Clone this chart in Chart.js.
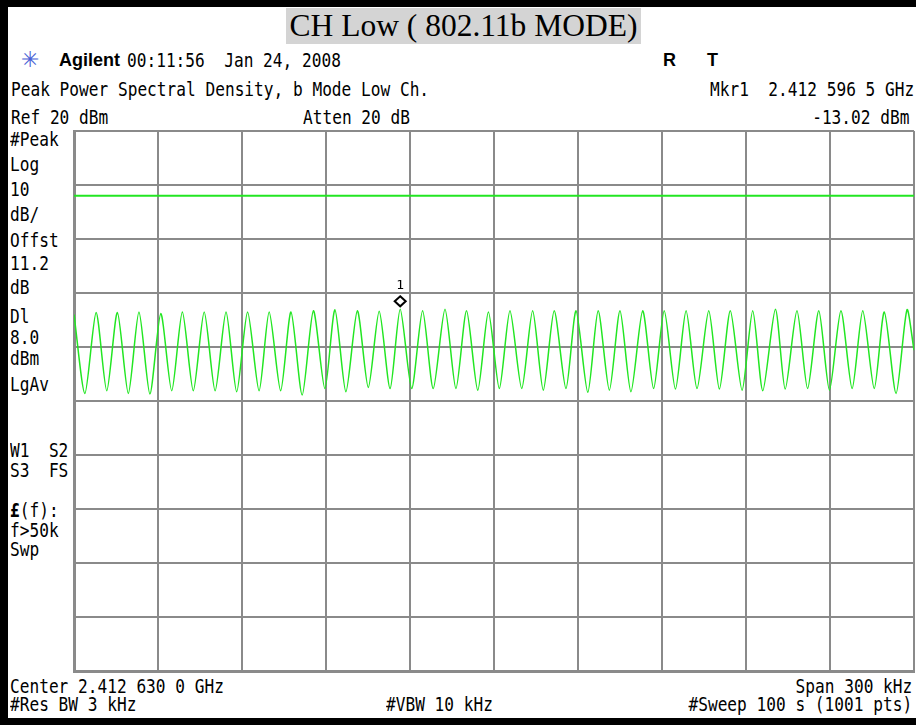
<!DOCTYPE html>
<html lang="en">
<head>
<meta charset="UTF-8">
<title>CH Low ( 802.11b MODE)</title>
<script src="https://cdn.jsdelivr.net/npm/chart.js"></script>
<style>
  html, body { margin: 0; padding: 0; background: #fff; }
  #page { position: relative; width: 916px; height: 725px; overflow: hidden; background: #fff; }
  .bar { position: absolute; background: #000; }
  .t { position: absolute; font-family: 'DejaVu Sans Mono', monospace; font-size: 19px; line-height: 19px;
       white-space: pre; color: #000; transform: scaleX(0.85); transform-origin: 0 0; }
  .r { transform-origin: 100% 0; }
  .b { font-family: 'Liberation Sans', Arial, sans-serif; font-weight: bold; font-size: 18px; transform: none; }
  #title { position: absolute; left: 286px; top: 8px; width: 355px; height: 36px; background: #d4d4d4;
           font-family: 'Liberation Serif', 'Times New Roman', serif; font-size: 31.5px; line-height: 36px;
           text-align: center; white-space: pre; color: #000; }
  #logo { position: absolute; left: 21px; top: 48px; font-family: 'DejaVu Sans', sans-serif; font-size: 22px;
          line-height: 24px; color: #4a5fd6; }
  #plot { position: absolute; left: 72px; top: 129px; width: 844px; height: 544px; }
</style>
</head>
<body>
<div id="page">
  <div class="bar" style="left:0;top:0;width:916px;height:7px"></div>
  <div class="bar" style="left:0;top:0;width:8px;height:725px"></div>
  <div class="bar" style="left:0;top:718px;width:916px;height:7px"></div>

  <div id="title">CH Low ( 802.11b MODE)</div>

  <div id="logo">✳</div>
  <div class="t b" style="left:59px;top:51px">Agilent</div>
  <div class="t" style="left:127px;top:51px">00:11:56  Jan 24, 2008</div>
  <div class="t b" style="left:663px;top:51px">R</div>
  <div class="t b" style="left:707px;top:51px">T</div>

  <div class="t" style="left:11px;top:80px">Peak Power Spectral Density, b Mode Low Ch.</div>
  <div class="t r" style="right:2px;top:80px">Mkr1  2.412 596 5 GHz</div>
  <div class="t" style="left:11px;top:108px">Ref 20 dBm</div>
  <div class="t" style="left:303px;top:108px">Atten 20 dB</div>
  <div class="t r" style="right:7px;top:108px">-13.02 dBm</div>

  <div class="t" style="left:10px;top:130px">#Peak</div>
  <div class="t" style="left:10px;top:155px">Log</div>
  <div class="t" style="left:10px;top:180px">10</div>
  <div class="t" style="left:10px;top:205px">dB/</div>
  <div class="t" style="left:10px;top:231px">Offst</div>
  <div class="t" style="left:10px;top:254px">11.2</div>
  <div class="t" style="left:10px;top:278px">dB</div>
  <div class="t" style="left:10px;top:307px">Dl</div>
  <div class="t" style="left:10px;top:328px">8.0</div>
  <div class="t" style="left:10px;top:349px">dBm</div>
  <div class="t" style="left:10px;top:375px">LgAv</div>
  <div class="t" style="left:10px;top:441px">W1  S2</div>
  <div class="t" style="left:10px;top:461px">S3  FS</div>
  <div class="t" style="left:10px;top:501px"><b>£</b>(f):</div>
  <div class="t" style="left:10px;top:521px">f&gt;50k</div>
  <div class="t" style="left:10px;top:540px">Swp</div>

  <div class="t" style="left:10px;top:677px">Center 2.412 630 0 GHz</div>
  <div class="t r" style="right:4px;top:677px">Span 300 kHz</div>
  <div class="t" style="left:10px;top:695px">#Res BW 3 kHz</div>
  <div class="t" style="left:386px;top:695px">#VBW 10 kHz</div>
  <div class="t r" style="right:4px;top:695px">#Sweep 100 s (1001 pts)</div>

  <canvas id="plot" width="844" height="544"></canvas>
</div>

<script>
  // frequency axis: offset from center 2.412 630 0 GHz, in kHz (span 300 kHz)
  const spanMin = -150;
  const spanMax = 150;
  const freqStep = 30;
  // amplitude axis: Ref 20 dBm, 10 dB/div
  const refLevel = 20;
  const bottomLevel = -80;
  const levelStep = 10;
  const displayLine = 8.0;

  // trace peaks and troughs (kHz offset, dBm)
  const traceFreq = [
    -150, -146.1, -142.1, -138.3, -134.5, -130.6, -126.8, -122.9, -119.0, -115.1,
    -111.3, -107.4, -103.5, -99.6, -95.7, -91.9, -88.0, -83.9, -80.3, -76.2,
    -72.5, -68.5, -64.5, -60.4, -56.8, -52.9, -48.8, -44.9, -41.0, -37.1,
    -33.5, -29.4, -25.5, -21.7, -17.5, -13.6, -9.8, -5.8, -2.0, 1.9,
    5.7, 9.9, 13.8, 17.6, 21.5, 25.7, 29.3, 33.5, 37.2, 41.2,
    45.0, 48.9, 53.1, 57.0, 60.8, 64.8, 68.6, 72.5, 76.7, 80.5,
    84.4, 88.6, 92.4, 96.0, 100.5, 104.0, 108.2, 112.0, 116.0, 119.8,
    123.9, 127.9, 131.7, 135.8, 139.4, 143.6, 147.5, 150
  ];
  const traceLevel = [
    -14.0, -28.6, -13.6, -28.1, -13.6, -28.6, -13.5, -28.7, -13.8, -28.1,
    -13.5, -28.1, -13.5, -28.1, -13.5, -28.3, -13.5, -28.1, -13.5, -28.1,
    -13.5, -28.9, -13.3, -27.7, -13.1, -28.3, -13.3, -27.5, -13.4, -27.7,
    -13.02, -27.7, -13.3, -27.7, -13.0, -27.7, -13.3, -28.0, -13.5, -27.7,
    -13.3, -27.7, -13.3, -28.0, -13.3, -27.7, -13.3, -28.4, -13.3, -28.0,
    -13.3, -28.3, -13.3, -27.7, -13.3, -27.8, -13.3, -27.7, -13.3, -27.8,
    -13.3, -28.0, -13.3, -28.1, -13.0, -27.8, -13.3, -27.7, -13.3, -28.0,
    -13.3, -27.7, -13.3, -27.7, -13.5, -28.6, -13.1, -20.6
  ];

  // marker 1: 2.412 596 5 GHz, -13.02 dBm
  const mkrFreq = -33.5;
  const mkrLevel = -13.02;

  const gridColor = '#8a8a8a';
  const traceColor = '#22e622';

  const markerPlugin = {
    id: 'marker',
    afterDatasetsDraw(chart) {
      const { ctx, scales: { x, y } } = chart;
      const px = x.getPixelForValue(mkrFreq);
      const py = y.getPixelForValue(mkrLevel) - 8;
      ctx.save();
      ctx.beginPath();
      ctx.moveTo(px, py - 5);
      ctx.lineTo(px + 5.5, py);
      ctx.lineTo(px, py + 5);
      ctx.lineTo(px - 5.5, py);
      ctx.closePath();
      ctx.fillStyle = '#fff';
      ctx.fill();
      ctx.lineWidth = 2;
      ctx.strokeStyle = '#000';
      ctx.stroke();
      ctx.fillStyle = '#000';
      ctx.font = '13px "DejaVu Sans Mono"';
      ctx.textAlign = 'center';
      ctx.textBaseline = 'middle';
      ctx.fillText('1', px, py - 16);
      ctx.restore();
    }
  };

  new Chart(document.getElementById('plot').getContext('2d'), {
    type: 'line',
    data: {
      datasets: [
        {
          label: 'Trace',
          data: traceFreq.map((f, i) => ({ x: f, y: traceLevel[i] })),
          borderColor: traceColor,
          borderWidth: 1.5,
          pointRadius: 0,
          tension: 0.25
        },
        {
          label: 'Display line',
          data: [{ x: spanMin, y: displayLine }, { x: spanMax, y: displayLine }],
          borderColor: traceColor,
          borderWidth: 2,
          pointRadius: 0
        }
      ]
    },
    options: {
      responsive: false,
      animation: false,
      devicePixelRatio: 1,
      layout: { padding: { left: 2, right: 2, top: 2, bottom: 2 } },
      plugins: { legend: { display: false }, tooltip: { enabled: false } },
      scales: {
        x: {
          type: 'linear',
          min: spanMin,
          max: spanMax,
          ticks: { display: false, stepSize: freqStep },
          grid: { color: gridColor, lineWidth: 2, drawTicks: false },
          border: { color: gridColor, width: 3 }
        },
        y: {
          min: bottomLevel,
          max: refLevel,
          ticks: { display: false, stepSize: levelStep },
          grid: { color: gridColor, lineWidth: 2, drawTicks: false },
          border: { color: gridColor, width: 3 }
        }
      }
    },
    plugins: [markerPlugin]
  });
</script>
</body>
</html>
